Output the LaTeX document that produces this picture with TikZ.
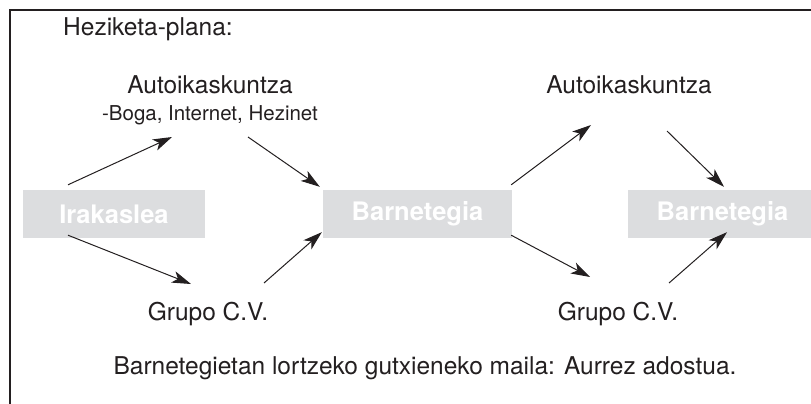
\documentclass[tikz,border=0pt]{standalone}
\usepackage{fontspec}
\setmainfont{TeX Gyre Heros}
\usepackage{tikz}
\usetikzlibrary{arrows.meta,positioning,calc}
\definecolor{boxgray}{RGB}{220,221,223}
\definecolor{inkgray}{RGB}{35,31,32}

\begin{document}
\begin{tikzpicture}[
    x=1pt, y=-1pt,
    label/.style={font=\fontsize{24.5}{28}\selectfont, text=inkgray, inner sep=0pt},
    sublabel/.style={font=\fontsize{20.5}{24}\selectfont, text=inkgray, inner sep=0pt},
    place/.style={rectangle, fill=boxgray, minimum width=189pt, minimum height=48pt, inner sep=0pt, text=white, font=\fontsize{25.5}{29}\selectfont\bfseries},
    arrow/.style={-{Stealth[length=19pt,width=12pt,inset=5pt]}, line width=1pt, inkgray}
]
\useasboundingbox (0,0) rectangle (811,404);
\clip (0,0) rectangle (811,404);

% Frame
\draw[line width=1.3pt, inkgray] (10,404) -- (10,10) -- (811,10);

% Title
\node[label, anchor=base west] (title) at (63,36) {Heziketa-plana:};

% Boxes
\node[place, minimum width=182pt] (irak) at (114,214) {Irakaslea};
\node[place] (barn1) at (417.5,214) {Barnetegia};
\node[place] (barn2) at (722.5,214) {Barnetegia};

% Ways between the boxes
\node[label, anchor=base] (auto1) at (210,93) {Autoikaskuntza};
\node[sublabel, anchor=base] (sub1) at (210,120) {-Boga, Internet, Hezinet};
\node[label, anchor=base] (grupo1) at (208,320) {Grupo C.V.};
\node[label, anchor=base] (auto2) at (629,93) {Autoikaskuntza};
\node[label, anchor=base] (grupo2) at (618,320) {Grupo C.V.};

% Goal
\node[label, anchor=base] (goal) at (425,374) {Barnetegietan lortzeko gutxieneko maila: Aurrez adostua.};

% Arrows
\draw[arrow] ($(irak.north)+(-46,-5)$) -- ($(auto1.base)+(-38,44)$);
\draw[arrow] ($(irak.south)+(-46,-3)$) -- ($(grupo1.base)+(-17,-36)$);
\draw[arrow] ($(auto1.base)+(38,44)$) -- ($(barn1.north west)+(-3,-3)$);
\draw[arrow] ($(grupo1.base)+(56,-37)$) -- ($(barn1.south west)+(-1,-6)$);
\draw[arrow] ($(barn1.north east)+(-1,-5)$) -- ($(auto2.base)+(-38,32)$);
\draw[arrow] ($(barn1.south east)+(-1,-3)$) -- ($(grupo2.base)+(-28,-43)$);
\draw[arrow] ($(auto2.base)+(38,38)$) -- ($(barn2.north)+(1.5,-3)$);
\draw[arrow] ($(grupo2.base)+(51,-37)$) -- ($(barn2.south)+(4.5,-6)$);

\end{tikzpicture}
\end{document}
